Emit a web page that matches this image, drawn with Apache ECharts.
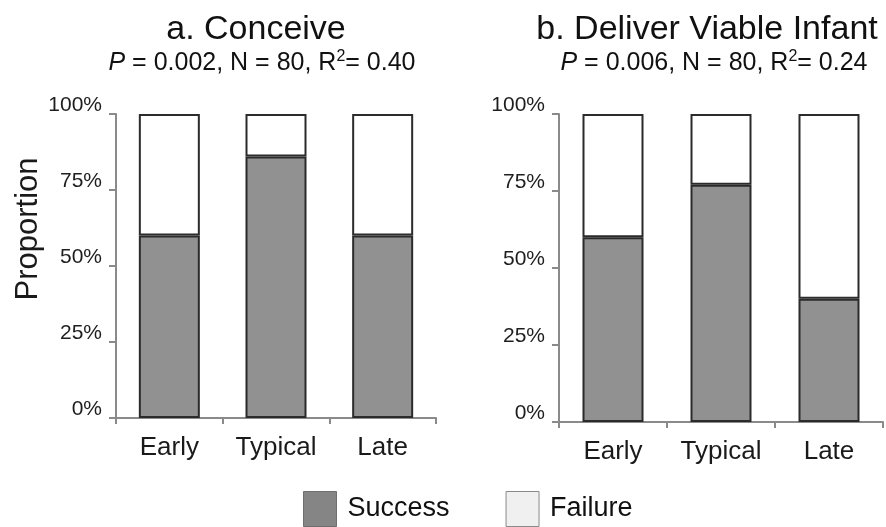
<!DOCTYPE html>
<html>
<head>
<meta charset="utf-8">
<script src="https://cdn.jsdelivr.net/npm/echarts@6/dist/echarts.min.js"></script>
<style>
  html, body { margin: 0; padding: 0; background: #fff; }
  #chart { width: 886px; height: 527px; }
</style>
</head>
<body>
<div id="chart"></div>
<script>
// Timing groups along the x axis
const categories = ['Early', 'Typical', 'Late'];
// Percent of outcomes, panel a (conceive)
const conceiveSuccess = [60, 86, 60];
const conceiveFailure = [40, 14, 40];
// Percent of outcomes, panel b (deliver viable infant)
const deliverSuccess = [60, 77, 40];
const deliverFailure = [40, 23, 60];
// Y tick values
const yTicks = [0, 25, 50, 75, 100];

const FONT = 'Liberation Sans, Arial, sans-serif';
const AXIS_GREY = '#8a8a8a';
const SUCCESS_FILL = '#919191';
const FAILURE_FILL = '#ffffff';
const EDGE = '#2b2b2b';

function xAxisFor(gridIndex) {
  return {
    type: 'category',
    gridIndex,
    data: categories,
    axisLine: { lineStyle: { color: AXIS_GREY, width: 2 } },
    axisTick: { show: true, length: 6, lineStyle: { color: AXIS_GREY, width: 2 } },
    axisLabel: { color: '#1a1a1a', fontSize: 26, fontFamily: FONT, margin: 17 }
  };
}

function yAxisFor(gridIndex, withName) {
  return {
    type: 'value',
    gridIndex,
    min: yTicks[0],
    max: yTicks[yTicks.length - 1],
    interval: 25,
    name: withName ? 'Proportion' : '',
    nameLocation: 'middle',
    nameGap: 72,
    nameRotate: 90,
    nameTextStyle: { color: '#1a1a1a', fontSize: 31, fontFamily: FONT, padding: [0, 0, 0, 74] },
    axisLine: { show: true, lineStyle: { color: AXIS_GREY, width: 2 } },
    axisTick: { show: true, length: 7, lineStyle: { color: AXIS_GREY, width: 2 } },
    splitLine: { show: false },
    axisLabel: {
      color: '#1e1e1e', fontSize: 21, fontFamily: FONT, margin: 14,
      verticalAlign: 'bottom', lineHeight: 18,
      formatter: '{value}%'
    }
  };
}

function stackPair(gridIndex, success, failure) {
  const base = {
    type: 'bar',
    xAxisIndex: gridIndex,
    yAxisIndex: gridIndex,
    stack: 'outcome' + gridIndex,
    barWidth: 61,
    emphasis: { disabled: true }
  };
  return [
    Object.assign({}, base, {
      name: 'Success', data: success,
      itemStyle: { color: SUCCESS_FILL, borderColor: EDGE, borderWidth: 2 }
    }),
    Object.assign({}, base, {
      name: 'Failure', data: failure,
      itemStyle: { color: FAILURE_FILL, borderColor: EDGE, borderWidth: 2 }
    })
  ];
}

const subRich = {
  i: { fontStyle: 'italic', fontSize: 25, fontFamily: FONT, color: '#111' },
  sup: { fontSize: 16, fontFamily: FONT, color: '#111', padding: [0, 0, 13, 0] }
};

const option = {
  animation: false,
  backgroundColor: '#ffffff',
  title: [
    { text: 'a. Conceive', left: 251, top: 8, textAlign: 'center',
      textStyle: { fontSize: 34, fontWeight: 'normal', color: '#111', fontFamily: FONT } },
    { text: '{i|P} = 0.002, N = 80, R{sup|2}= 0.40', left: 257, top: 44, textAlign: 'center',
      textStyle: { fontSize: 25, fontWeight: 'normal', color: '#111', fontFamily: FONT, rich: subRich } },
    { text: 'b. Deliver Viable Infant', left: 702, top: 8, textAlign: 'center',
      textStyle: { fontSize: 34, fontWeight: 'normal', color: '#111', fontFamily: FONT } },
    { text: '{i|P} = 0.006, N = 80, R{sup|2}= 0.24', left: 709, top: 44, textAlign: 'center',
      textStyle: { fontSize: 25, fontWeight: 'normal', color: '#111', fontFamily: FONT, rich: subRich } }
  ],
  legend: {
    left: 298,
    top: 486,
    itemWidth: 33,
    itemHeight: 35,
    itemGap: 56,
    selectedMode: false,
    textStyle: { fontSize: 27, color: '#111', fontFamily: FONT, padding: [0, 0, 0, 6] },
    data: [
      { name: 'Success', icon: 'rect', itemStyle: { color: '#858585', borderColor: '#6e6e6e', borderWidth: 1 } },
      { name: 'Failure', icon: 'rect', itemStyle: { color: '#f0f0f0', borderColor: '#8a8a8a', borderWidth: 1 } }
    ]
  },
  grid: [
    { left: 116, top: 114, width: 320, height: 304 },
    { left: 559, top: 114, width: 324, height: 308 }
  ],
  xAxis: [xAxisFor(0), xAxisFor(1)],
  yAxis: [yAxisFor(0, true), yAxisFor(1, false)],
  series: [
    ...stackPair(0, conceiveSuccess, conceiveFailure),
    ...stackPair(1, deliverSuccess, deliverFailure)
  ]
};

const chart = echarts.init(document.getElementById('chart'), null, { renderer: 'canvas' });
chart.setOption(option);
</script>
</body>
</html>
